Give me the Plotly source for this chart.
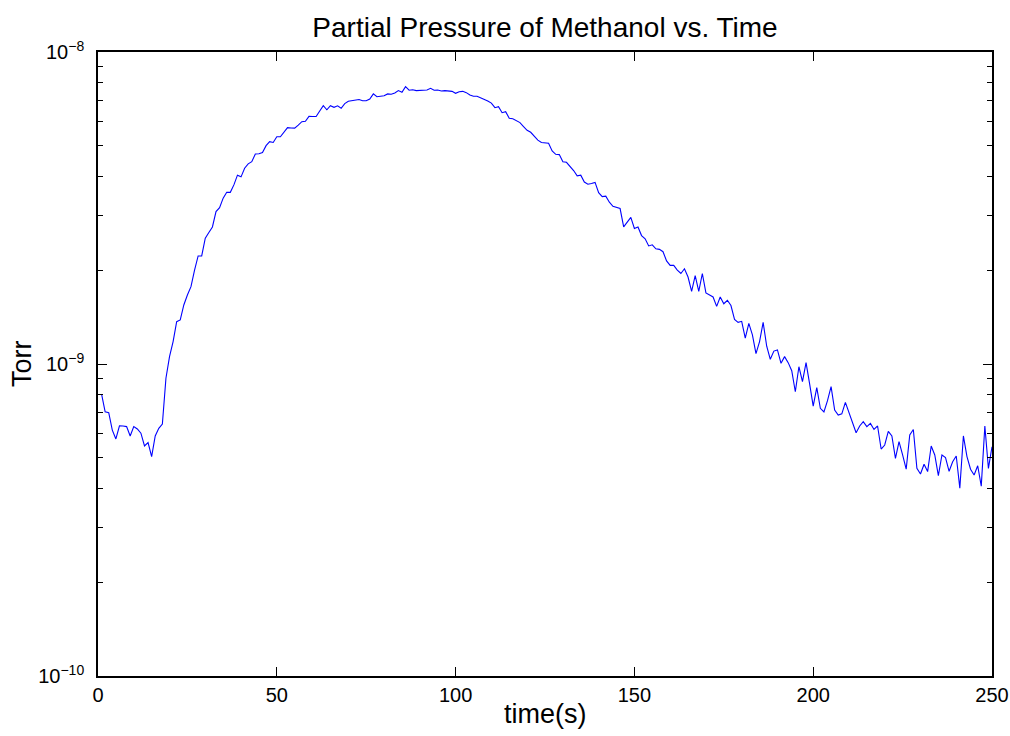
import plotly.graph_objects as go

time_s = list(range(1, 251))

torr = [
    8.01e-10, 7.03e-10, 6.98e-10, 6.14e-10, 5.75e-10, 6.34e-10, 6.33e-10, 6.30e-10, 5.88e-10, 6.30e-10,
    6.19e-10, 6.00e-10, 5.46e-10, 5.60e-10, 5.05e-10, 5.88e-10, 6.22e-10, 6.42e-10, 9.00e-10, 1.056e-9,
    1.18e-9, 1.367e-9, 1.384e-9, 1.546e-9, 1.664e-9, 1.77e-9, 2.00e-9, 2.22e-9, 2.22e-9, 2.53e-9,
    2.64e-9, 2.75e-9, 3.08e-9, 3.17e-9, 3.40e-9, 3.55e-9, 3.55e-9, 3.75e-9, 4.03e-9, 3.98e-9,
    4.24e-9, 4.38e-9, 4.45e-9, 4.71e-9, 4.72e-9, 4.76e-9, 5.01e-9, 5.16e-9, 5.13e-9, 5.35e-9,
    5.35e-9, 5.53e-9, 5.72e-9, 5.71e-9, 5.70e-9, 5.83e-9, 5.98e-9, 6.00e-9, 6.22e-9, 6.21e-9,
    6.21e-9, 6.47e-9, 6.73e-9, 6.53e-9, 6.73e-9, 6.65e-9, 6.72e-9, 6.60e-9, 6.83e-9, 6.95e-9,
    6.97e-9, 7.00e-9, 7.04e-9, 6.98e-9, 6.98e-9, 7.07e-9, 7.34e-9, 7.19e-9, 7.23e-9, 7.24e-9,
    7.34e-9, 7.32e-9, 7.39e-9, 7.52e-9, 7.43e-9, 7.74e-9, 7.54e-9, 7.57e-9, 7.52e-9, 7.54e-9,
    7.52e-9, 7.55e-9, 7.65e-9, 7.54e-9, 7.55e-9, 7.50e-9, 7.52e-9, 7.48e-9, 7.48e-9, 7.37e-9,
    7.46e-9, 7.48e-9, 7.41e-9, 7.28e-9, 7.21e-9, 7.21e-9, 7.14e-9, 7.05e-9, 6.97e-9, 6.86e-9,
    6.63e-9, 6.68e-9, 6.39e-9, 6.44e-9, 6.13e-9, 6.11e-9, 6.04e-9, 5.94e-9, 5.77e-9, 5.61e-9,
    5.53e-9, 5.38e-9, 5.22e-9, 5.13e-9, 5.12e-9, 5.10e-9, 4.82e-9, 4.70e-9, 4.69e-9, 4.45e-9,
    4.43e-9, 4.30e-9, 4.17e-9, 4.01e-9, 4.03e-9, 3.83e-9, 3.77e-9, 3.79e-9, 3.82e-9, 3.54e-9,
    3.44e-9, 3.45e-9, 3.30e-9, 3.20e-9, 3.18e-9, 3.15e-9, 2.75e-9, 2.84e-9, 2.95e-9, 2.72e-9,
    2.75e-9, 2.58e-9, 2.52e-9, 2.39e-9, 2.41e-9, 2.34e-9, 2.33e-9, 2.29e-9, 2.14e-9, 2.07e-9,
    2.07e-9, 2.00e-9, 1.95e-9, 2.02e-9, 1.90e-9, 1.71e-9, 1.92e-9, 1.71e-9, 1.95e-9, 1.69e-9,
    1.66e-9, 1.64e-9, 1.53e-9, 1.64e-9, 1.56e-9, 1.60e-9, 1.54e-9, 1.39e-9, 1.36e-9, 1.37e-9,
    1.21e-9, 1.35e-9, 1.24e-9, 1.08e-9, 1.18e-9, 1.36e-9, 1.14e-9, 1.035e-9, 1.10e-9, 1.11e-9,
    1.005e-9, 1.056e-9, 1.01e-9, 9.52e-10, 8.15e-10, 9.80e-10, 8.78e-10, 1.01e-9, 8.63e-10, 7.33e-10,
    8.40e-10, 7.21e-10, 7.02e-10, 7.63e-10, 8.46e-10, 7.12e-10, 6.86e-10, 6.92e-10, 7.53e-10, 6.98e-10,
    6.53e-10, 6.02e-10, 6.33e-10, 6.53e-10, 6.30e-10, 6.45e-10, 6.17e-10, 6.33e-10, 5.34e-10, 5.50e-10,
    6.08e-10, 5.88e-10, 4.98e-10, 5.64e-10, 5.11e-10, 4.60e-10, 5.92e-10, 6.17e-10, 4.63e-10, 4.44e-10,
    4.77e-10, 4.52e-10, 5.46e-10, 5.11e-10, 4.39e-10, 5.11e-10, 5.01e-10, 4.53e-10, 4.86e-10, 5.07e-10,
    4.00e-10, 5.88e-10, 5.05e-10, 4.60e-10, 4.41e-10, 4.72e-10, 4.06e-10, 6.33e-10, 4.63e-10, 5.43e-10,
]

x_ticks = [0, 50, 100, 150, 200, 250]
y_ticks = [1e-10, 1e-9, 1e-8]
y_tick_text = ["10<sup>\u221210</sup>", "10<sup>\u22129</sup>", "10<sup>\u22128</sup>"]
y_minor = [m * 1e-10 for m in range(2, 10)] + [m * 1e-9 for m in range(2, 10)]

FONT = "Liberation Sans, Arial, sans-serif"

fig = go.Figure()
fig.add_trace(go.Scatter(
    x=time_s, y=torr, mode="lines",
    line=dict(color="#0000ff", width=1.1),
    showlegend=False, hoverinfo="skip",
))

fig.update_layout(
    width=1010, height=736,
    margin=dict(l=98, r=18, t=52, b=60, autoexpand=False),
    paper_bgcolor="white", plot_bgcolor="white",
    font=dict(family=FONT, color="black", size=20),
    title=dict(
        text="Partial Pressure of Methanol vs. Time",
        x=0.5, xref="paper", y=1 - 27 / 736, yref="container",
        xanchor="center", yanchor="middle", automargin=False,
        font=dict(family=FONT, size=28, color="black"),
    ),
    annotations=[
        dict(text="time(s)", xref="paper", yref="paper", x=0.5, y=-(714 - 676) / 624,
             xanchor="center", yanchor="middle", showarrow=False,
             font=dict(family=FONT, size=27, color="black")),
        dict(text="Torr", xref="paper", yref="paper", x=(22 - 98) / 894, y=0.5,
             xanchor="center", yanchor="middle", showarrow=False, textangle=-90,
             font=dict(family=FONT, size=27, color="black")),
    ],
)

fig.update_xaxes(
    range=[0, 250], tickvals=x_ticks, ticktext=[str(v) for v in x_ticks],
    ticks="inside", ticklen=9, tickwidth=1.3, tickcolor="black",
    showline=True, linecolor="black", linewidth=1.6, mirror="ticks",
    showgrid=False, zeroline=False, automargin=False,
    tickfont=dict(family=FONT, size=20, color="black"),
)
fig.update_yaxes(
    type="log", range=[-10, -8], tickvals=y_ticks, ticktext=y_tick_text,
    ticks="inside", ticklen=9, tickwidth=1.3, tickcolor="black",
    minor=dict(tickvals=y_minor, ticks="inside", ticklen=5, tickwidth=1.3, tickcolor="black", showgrid=False),
    showline=True, linecolor="black", linewidth=1.6, mirror="ticks",
    showgrid=False, zeroline=False, ticklabelstandoff=8, automargin=False,
    tickfont=dict(family=FONT, size=20, color="black"),
)

fig.write_html("out.html", config={"displayModeBar": False},
               post_script="document.body.style.margin='0';")
